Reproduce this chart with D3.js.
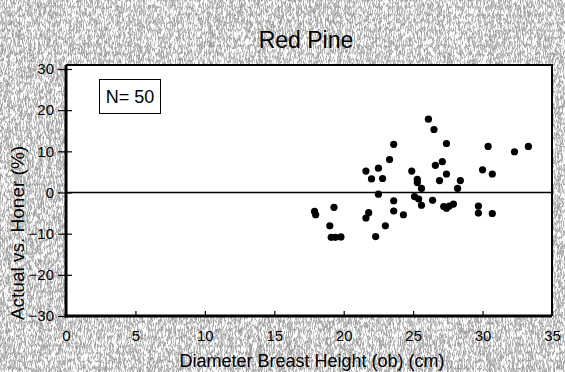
<!DOCTYPE html>
<html>
<head>
<meta charset="utf-8">
<script src="https://cdn.jsdelivr.net/npm/d3@7"></script>
<style>
  body { margin: 0; padding: 0; }
  svg { display: block; font-family: "Liberation Sans", Arial, sans-serif; }
</style>
</head>
<body>
<script>
// DBH (cm) and Actual vs. Honer (%)
var dbh = [17.98, 17.9, 19.3, 19.0, 19.1, 19.4, 19.8,
           21.6, 22.0, 21.6, 21.8,
           22.5, 22.8, 23.3, 23.6, 22.5, 23.6, 23.6, 24.3, 23.0, 22.3,
           24.9, 25.3, 25.3, 25.6, 25.1, 25.4, 25.6, 26.4,
           26.1, 26.5, 27.4, 26.6, 27.1, 27.4, 26.9, 28.4, 28.2, 27.2, 27.4,
           27.6, 27.9,
           30.0, 30.7, 30.4, 32.3, 33.3, 29.7, 29.7, 30.7];
var pct = [-5.4, -4.6, -3.6, -8.1, -10.9, -10.9, -10.8,
           5.2, 3.3, -6.2, -4.9,
           5.9, 3.4, 8.0, 11.7, -0.4, -2.0, -4.5, -5.4, -8.1, -10.7,
           5.2, 3.2, 2.4, 1.0, -1.0, -1.6, -3.1, -1.9,
           17.8, 15.3, 11.9, 6.6, 7.5, 4.5, 2.9, 2.9, 1.0, -3.4, -3.8,
           -3.3, -2.8,
           5.5, 4.5, 11.2, 9.9, 11.2, -3.3, -5.0, -5.1];
var xTicks = [0, 5, 10, 15, 20, 25, 30, 35];
var yTicks = [-30, -20, -10, 0, 10, 20, 30];

var W = 565, H = 372;
var frame = {left: 66, right: 552, top: 65, bottom: 316};

var svg = d3.select("body").append("svg")
        .attr("width", W)
        .attr("height", H);

// dithered grey backdrop
var defs = svg.append("defs");
var f = defs.append("filter").attr("id", "noise")
        .attr("x", 0).attr("y", 0).attr("width", W).attr("height", H)
        .attr("filterUnits", "userSpaceOnUse");
f.append("feTurbulence")
        .attr("type", "fractalNoise")
        .attr("baseFrequency", "0.9 0.13")
        .attr("numOctaves", 2)
        .attr("seed", 7);
f.append("feColorMatrix")
        .attr("type", "matrix")
        .attr("values", "1 0 0 0 0  1 0 0 0 0  1 0 0 0 0  0 0 0 0 1");
var ct = f.append("feComponentTransfer");
var table = "1 1 1 1 1 1 1 0.85 0.6 0.35 0.5 0.6 0.85 1 1 1 1 1 1 1";
["feFuncR", "feFuncG", "feFuncB"].forEach(function(fn) {
    ct.append(fn).attr("type", "discrete").attr("tableValues", table);
});
svg.append("rect")
        .attr("width", W).attr("height", H)
        .attr("fill", "#fff")
        .attr("filter", "url(#noise)");

var x = d3.scaleLinear().domain([0, 35]).range([frame.left, frame.right]);
var y = d3.scaleLinear().domain([-30, 30]).range([frame.bottom, 69]);

// plot area
svg.append("rect")
        .attr("x", frame.left).attr("y", frame.top)
        .attr("width", frame.right - frame.left)
        .attr("height", frame.bottom - frame.top)
        .attr("fill", "#fff");

// zero line
svg.append("line")
        .attr("x1", frame.left).attr("x2", frame.right)
        .attr("y1", y(0)).attr("y2", y(0))
        .attr("stroke", "#000").attr("stroke-width", 1.5);

// points
svg.append("g").selectAll("circle")
        .data(dbh)
        .enter().append("circle")
        .attr("cx", function(d) { return x(d); })
        .attr("cy", function(d, i) { return y(pct[i]); })
        .attr("r", 3.6)
        .attr("fill", "#000");

// axes
var xaxis = svg.append("g")
        .attr("transform", "translate(0," + frame.bottom + ")")
        .call(d3.axisBottom(x).tickValues(xTicks).tickSize(-5).tickPadding(14));
var yaxis = svg.append("g")
        .attr("transform", "translate(" + frame.left + ",0)")
        .call(d3.axisLeft(y).tickValues(yTicks).tickSize(8).tickPadding(4));
yaxis.selectAll(".tick line").attr("x2", 6).attr("x1", -8);

[xaxis, yaxis].forEach(function(a) {
    a.select(".domain").remove();
    a.selectAll(".tick line").attr("stroke", "#000").attr("stroke-width", 1.2);
    a.selectAll("text")
        .attr("fill", "#000")
        .style("font-size", "15px")
        .style("font-family", "'Liberation Sans', Arial, sans-serif");
});

// frame
svg.append("line").attr("x1", frame.left).attr("x2", frame.left)
        .attr("y1", frame.top).attr("y2", frame.bottom + 1.5)
        .attr("stroke", "#000").attr("stroke-width", 3);
svg.append("line").attr("x1", frame.left - 1.5).attr("x2", frame.right)
        .attr("y1", frame.bottom).attr("y2", frame.bottom)
        .attr("stroke", "#000").attr("stroke-width", 3);
svg.append("line").attr("x1", frame.left).attr("x2", frame.right + 1)
        .attr("y1", frame.top).attr("y2", frame.top)
        .attr("stroke", "#000").attr("stroke-width", 2);
svg.append("line").attr("x1", frame.right).attr("x2", frame.right)
        .attr("y1", frame.top).attr("y2", frame.bottom)
        .attr("stroke", "#000").attr("stroke-width", 2);

// N box
var nb = svg.append("g");
nb.append("rect")
        .attr("x", 99.5).attr("y", 79.5)
        .attr("width", 61).attr("height", 34)
        .attr("fill", "#fff")
        .attr("stroke", "#000").attr("stroke-width", 1);
nb.append("text")
        .attr("x", 130).attr("y", 103)
        .attr("text-anchor", "middle")
        .style("font-size", "18px")
        .text("N= 50");

// titles
svg.append("text")
        .attr("x", 306).attr("y", 48)
        .attr("text-anchor", "middle")
        .style("font-size", "23px")
        .text("Red Pine");

svg.append("text")
        .attr("x", 312).attr("y", 367)
        .attr("text-anchor", "middle")
        .style("font-size", "18px")
        .text("Diameter Breast Height (ob) (cm)");

svg.append("text")
        .attr("transform", "translate(24,233) rotate(-90)")
        .attr("text-anchor", "middle")
        .style("font-size", "19px")
        .text("Actual vs. Honer (%)");
</script>
</body>
</html>
